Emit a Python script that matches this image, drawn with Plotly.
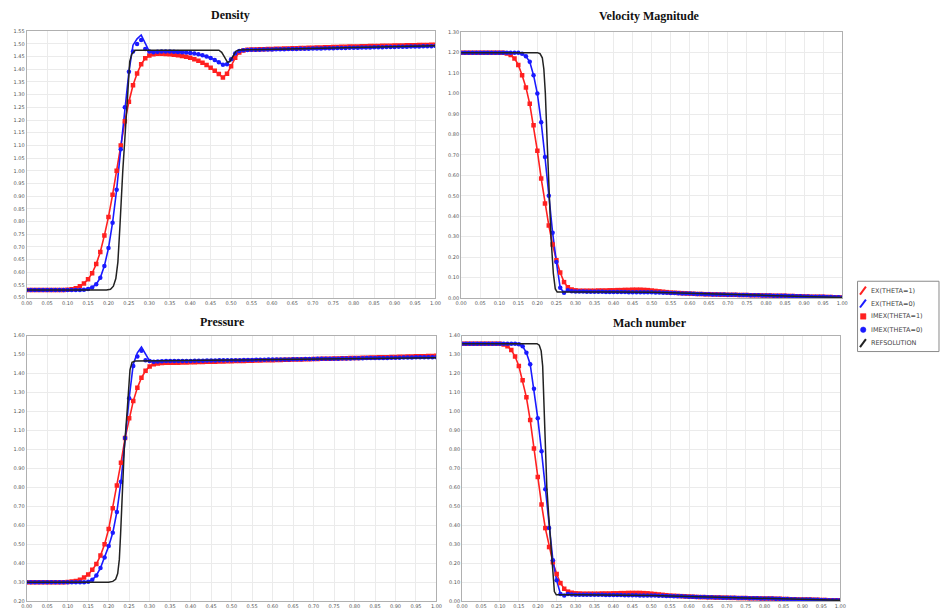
import plotly.graph_objects as go

# ---------------- data ----------------
X = [round(i * 0.01, 2) for i in range(101)]

density_red = [
    0.530, 0.530, 0.530, 0.530, 0.530, 0.530, 0.530, 0.530, 0.530, 0.530,
    0.531, 0.533, 0.537, 0.545, 0.556, 0.572, 0.596, 0.632, 0.680, 0.745,
    0.818, 0.905, 1.000, 1.100, 1.195, 1.272, 1.337, 1.383, 1.420, 1.443,
    1.454, 1.459, 1.461, 1.461, 1.460, 1.459, 1.457, 1.455, 1.452, 1.449,
    1.445, 1.440, 1.434, 1.426, 1.417, 1.406, 1.394, 1.381, 1.368, 1.382,
    1.412, 1.445, 1.466, 1.474, 1.477, 1.478, 1.478, 1.479, 1.479, 1.480,
    1.480, 1.481, 1.481, 1.482, 1.482, 1.483, 1.483, 1.484, 1.484, 1.485,
    1.485, 1.486, 1.486, 1.487, 1.487, 1.488, 1.488, 1.489, 1.489, 1.490,
    1.490, 1.490, 1.491, 1.491, 1.492, 1.492, 1.492, 1.493, 1.493, 1.493,
    1.494, 1.494, 1.494, 1.495, 1.495, 1.495, 1.496, 1.496, 1.496, 1.497,
    1.497]
density_blue = [
    0.530, 0.530, 0.530, 0.530, 0.530, 0.530, 0.530, 0.530, 0.530, 0.530,
    0.530, 0.530, 0.530, 0.530, 0.531, 0.534, 0.540, 0.553, 0.578, 0.625,
    0.695, 0.795, 0.925, 1.085, 1.250, 1.390, 1.495, 1.520, 1.535, 1.500,
    1.470, 1.467, 1.469, 1.470, 1.470, 1.470, 1.469, 1.468, 1.467, 1.466,
    1.464, 1.462, 1.459, 1.455, 1.450, 1.444, 1.437, 1.428, 1.418, 1.420,
    1.440, 1.462, 1.472, 1.475, 1.476, 1.477, 1.477, 1.477, 1.478, 1.478,
    1.478, 1.479, 1.479, 1.479, 1.480, 1.480, 1.480, 1.481, 1.481, 1.481,
    1.482, 1.482, 1.482, 1.483, 1.483, 1.483, 1.484, 1.484, 1.484, 1.485,
    1.485, 1.485, 1.486, 1.486, 1.486, 1.487, 1.487, 1.487, 1.488, 1.488,
    1.488, 1.489, 1.489, 1.489, 1.490, 1.490, 1.490, 1.491, 1.491, 1.491,
    1.492]
density_blue_imex_peak = [1.470, 1.500, 1.515, 1.480]   # x = 0.26 .. 0.29

velocity_red = [
    1.200, 1.200, 1.200, 1.200, 1.200, 1.200, 1.200, 1.200, 1.200, 1.200,
    1.200, 1.199, 1.196, 1.188, 1.172, 1.140, 1.090, 1.030, 0.950, 0.845,
    0.720, 0.585, 0.462, 0.355, 0.262, 0.185, 0.125, 0.078, 0.053, 0.042,
    0.038, 0.036, 0.036, 0.036, 0.036, 0.036, 0.037, 0.037, 0.037, 0.038,
    0.038, 0.039, 0.039, 0.040, 0.040, 0.041, 0.041, 0.041, 0.040, 0.039,
    0.037, 0.035, 0.033, 0.031, 0.029, 0.027, 0.026, 0.025, 0.024, 0.023,
    0.022, 0.021, 0.020, 0.020, 0.019, 0.019, 0.018, 0.018, 0.017, 0.017,
    0.016, 0.016, 0.016, 0.015, 0.015, 0.015, 0.014, 0.014, 0.014, 0.013,
    0.013, 0.013, 0.012, 0.012, 0.011, 0.011, 0.010, 0.010, 0.009, 0.009,
    0.008, 0.008, 0.007, 0.007, 0.006, 0.006, 0.005, 0.005, 0.004, 0.004,
    0.003]
velocity_blue = [
    1.200, 1.200, 1.200, 1.200, 1.200, 1.200, 1.200, 1.200, 1.200, 1.200,
    1.200, 1.200, 1.200, 1.200, 1.200, 1.199, 1.195, 1.182, 1.155, 1.090,
    1.000, 0.860, 0.690, 0.500, 0.320, 0.176, 0.050, 0.026, 0.038, 0.034,
    0.032, 0.032, 0.032, 0.031, 0.031, 0.031, 0.031, 0.031, 0.030, 0.030,
    0.030, 0.030, 0.030, 0.030, 0.029, 0.029, 0.029, 0.029, 0.028, 0.028,
    0.028, 0.027, 0.027, 0.026, 0.026, 0.025, 0.025, 0.024, 0.023, 0.023,
    0.022, 0.021, 0.020, 0.020, 0.019, 0.019, 0.018, 0.018, 0.017, 0.017,
    0.016, 0.016, 0.016, 0.015, 0.015, 0.015, 0.014, 0.014, 0.014, 0.013,
    0.013, 0.013, 0.012, 0.012, 0.011, 0.011, 0.010, 0.010, 0.009, 0.009,
    0.008, 0.008, 0.007, 0.007, 0.006, 0.006, 0.005, 0.005, 0.004, 0.004,
    0.003]

pressure_red = [
    0.300, 0.300, 0.300, 0.300, 0.300, 0.300, 0.300, 0.300, 0.300, 0.300,
    0.301, 0.303, 0.306, 0.313, 0.325, 0.340, 0.365, 0.395, 0.440, 0.500,
    0.580, 0.690, 0.810, 0.930, 1.060, 1.165, 1.255, 1.325, 1.378, 1.415,
    1.438, 1.449, 1.453, 1.456, 1.457, 1.457, 1.458, 1.458, 1.459, 1.459,
    1.460, 1.460, 1.461, 1.461, 1.462, 1.462, 1.463, 1.464, 1.464, 1.465,
    1.465, 1.466, 1.466, 1.467, 1.468, 1.468, 1.469, 1.469, 1.470, 1.470,
    1.471, 1.472, 1.472, 1.473, 1.473, 1.474, 1.474, 1.475, 1.476, 1.476,
    1.477, 1.477, 1.478, 1.478, 1.479, 1.480, 1.480, 1.481, 1.481, 1.482,
    1.482, 1.483, 1.484, 1.484, 1.485, 1.485, 1.486, 1.486, 1.487, 1.488,
    1.488, 1.489, 1.489, 1.490, 1.490, 1.491, 1.492, 1.492, 1.493, 1.493,
    1.494]
pressure_blue = [
    0.300, 0.300, 0.300, 0.300, 0.300, 0.300, 0.300, 0.300, 0.300, 0.300,
    0.300, 0.300, 0.300, 0.300, 0.300, 0.302, 0.312, 0.335, 0.375, 0.430,
    0.490, 0.560, 0.670, 0.830, 1.060, 1.270, 1.450, 1.510, 1.540, 1.505,
    1.466, 1.462, 1.464, 1.465, 1.466, 1.466, 1.466, 1.466, 1.467, 1.467,
    1.467, 1.468, 1.468, 1.468, 1.469, 1.469, 1.469, 1.470, 1.470, 1.470,
    1.471, 1.471, 1.471, 1.472, 1.472, 1.472, 1.473, 1.473, 1.473, 1.474,
    1.474, 1.474, 1.475, 1.475, 1.475, 1.476, 1.476, 1.476, 1.477, 1.477,
    1.477, 1.478, 1.478, 1.478, 1.479, 1.479, 1.479, 1.480, 1.480, 1.480,
    1.481, 1.481, 1.481, 1.482, 1.482, 1.482, 1.483, 1.483, 1.483, 1.484,
    1.484, 1.484, 1.485, 1.485, 1.485, 1.486, 1.486, 1.486, 1.487, 1.487,
    1.487]
pressure_blue_imex_peak = [1.440, 1.490, 1.520, 1.470]   # x = 0.26 .. 0.29

mach_red = [
    1.358, 1.358, 1.358, 1.358, 1.358, 1.358, 1.358, 1.358, 1.358, 1.358,
    1.357, 1.353, 1.344, 1.325, 1.290, 1.240, 1.165, 1.075, 0.955, 0.805,
    0.655, 0.510, 0.385, 0.285, 0.205, 0.143, 0.095, 0.065, 0.050, 0.044,
    0.041, 0.040, 0.039, 0.039, 0.039, 0.039, 0.039, 0.040, 0.040, 0.040,
    0.041, 0.041, 0.042, 0.042, 0.043, 0.043, 0.043, 0.043, 0.042, 0.041,
    0.039, 0.037, 0.035, 0.033, 0.031, 0.029, 0.028, 0.027, 0.026, 0.025,
    0.024, 0.023, 0.022, 0.021, 0.021, 0.020, 0.020, 0.019, 0.019, 0.018,
    0.018, 0.017, 0.017, 0.016, 0.016, 0.016, 0.015, 0.015, 0.015, 0.014,
    0.014, 0.013, 0.013, 0.012, 0.012, 0.011, 0.011, 0.010, 0.010, 0.009,
    0.009, 0.008, 0.008, 0.007, 0.007, 0.006, 0.006, 0.005, 0.005, 0.004,
    0.004]
mach_blue = [
    1.358, 1.358, 1.358, 1.358, 1.358, 1.358, 1.358, 1.358, 1.358, 1.358,
    1.358, 1.358, 1.358, 1.358, 1.358, 1.355, 1.345, 1.310, 1.250, 1.120,
    0.965, 0.790, 0.590, 0.385, 0.215, 0.110, 0.038, 0.030, 0.037, 0.035,
    0.034, 0.034, 0.034, 0.033, 0.033, 0.033, 0.033, 0.033, 0.032, 0.032,
    0.032, 0.032, 0.032, 0.031, 0.031, 0.031, 0.031, 0.030, 0.030, 0.030,
    0.029, 0.029, 0.028, 0.028, 0.027, 0.027, 0.026, 0.025, 0.025, 0.024,
    0.023, 0.023, 0.022, 0.021, 0.021, 0.020, 0.020, 0.019, 0.019, 0.018,
    0.018, 0.017, 0.017, 0.016, 0.016, 0.016, 0.015, 0.015, 0.015, 0.014,
    0.014, 0.013, 0.013, 0.012, 0.012, 0.011, 0.011, 0.010, 0.010, 0.009,
    0.009, 0.008, 0.008, 0.007, 0.007, 0.006, 0.006, 0.005, 0.005, 0.004,
    0.004]

# reference solution (black line)
ref_density_x = [0, 0.195, 0.205, 0.212, 0.218, 0.223, 0.228, 0.235, 0.245, 0.252, 0.257, 0.265,
                 0.47, 0.477, 0.484, 0.491, 0.497, 0.505, 0.512, 0.52, 1.0]
ref_density_y = [0.53, 0.53, 0.533, 0.545, 0.575, 0.64, 0.78, 1.0, 1.25, 1.43, 1.46, 1.475,
                 1.475, 1.467, 1.448, 1.428, 1.43, 1.455, 1.472, 1.476, 1.493]
ref_velocity_x = [0, 0.2, 0.207, 0.213, 0.217, 0.221, 0.226, 0.231, 0.236, 0.242, 0.247, 0.252,
                  0.3, 0.4, 0.5, 0.6, 0.7, 0.8, 0.9, 1.0]
ref_velocity_y = [1.2, 1.2, 1.195, 1.175, 1.12, 1.0, 0.75, 0.52, 0.29, 0.12, 0.045, 0.03,
                  0.031, 0.030, 0.028, 0.022, 0.016, 0.013, 0.008, 0.003]
ref_pressure_x = [0, 0.2, 0.21, 0.217, 0.222, 0.226, 0.229, 0.233, 0.238, 0.245, 0.252, 0.257,
                  0.265, 0.5, 1.0]
ref_pressure_y = [0.3, 0.3, 0.304, 0.315, 0.345, 0.42, 0.55, 0.80, 1.0, 1.2, 1.42, 1.46,
                  1.466, 1.472, 1.484]
ref_mach_x = [0, 0.198, 0.204, 0.209, 0.213, 0.216, 0.219, 0.224, 0.229, 0.234, 0.239, 0.244,
              0.249, 0.3, 0.5, 0.6, 0.7, 0.8, 0.9, 1.0]
ref_mach_y = [1.358, 1.358, 1.35, 1.32, 1.24, 1.05, 0.80, 0.60, 0.45, 0.30, 0.15, 0.05,
              0.033, 0.034, 0.029, 0.024, 0.018, 0.014, 0.009, 0.004]

titles = ["Density", "Velocity Magnitude", "Pressure", "Mach number"]
legend_names = ["EX(THETA=1)", "EX(THETA=0)", "IMEX(THETA=1)", "IMEX(THETA=0)", "REFSOLUTION"]

# ---------------- figure ----------------
RED = "#ff2020"
BLUE = "#1a1aff"
BLACK = "#222222"
W, H = 944, 613

panels = [
    dict(ex_r=density_red, ex_b=density_blue,
         im_b=density_blue[:26] + density_blue_imex_peak + density_blue[30:],
         rx=ref_density_x, ry=ref_density_y, yr=[0.5, 1.55], dt=0.05,
         px=(21, 435), py=(28.5, 297.5)),
    dict(ex_r=velocity_red, ex_b=velocity_blue, im_b=velocity_blue,
         rx=ref_velocity_x, ry=ref_velocity_y, yr=[0.0, 1.3], dt=0.10,
         px=(461, 847), py=(29.5, 298)),
    dict(ex_r=pressure_red, ex_b=pressure_blue,
         im_b=pressure_blue[:26] + pressure_blue_imex_peak + pressure_blue[30:],
         rx=ref_pressure_x, ry=ref_pressure_y, yr=[0.2, 1.6], dt=0.10,
         px=(21, 436), py=(336, 604)),
    dict(ex_r=mach_red, ex_b=mach_blue, im_b=mach_blue,
         rx=ref_mach_x, ry=ref_mach_y, yr=[0.0, 1.4], dt=0.10,
         px=(462, 845), py=(336, 604)),
]

fig = go.Figure()
layout_axes = {}
for i, p in enumerate(panels):
    n = "" if i == 0 else str(i + 1)
    xa, ya = "x" + n, "y" + n
    fig.add_trace(go.Scatter(x=X, y=p["ex_r"], mode="lines", name=legend_names[0],
                             line=dict(color=RED, width=1.6), xaxis=xa, yaxis=ya, showlegend=False))
    fig.add_trace(go.Scatter(x=X, y=p["ex_b"], mode="lines", name=legend_names[1],
                             line=dict(color=BLUE, width=1.6), xaxis=xa, yaxis=ya, showlegend=False))
    fig.add_trace(go.Scatter(x=X, y=p["ex_r"], mode="markers", name=legend_names[2],
                             marker=dict(color=RED, size=4.5, symbol="square"),
                             xaxis=xa, yaxis=ya, showlegend=False))
    fig.add_trace(go.Scatter(x=X, y=p["im_b"], mode="markers", name=legend_names[3],
                             marker=dict(color=BLUE, size=4.5, symbol="circle"),
                             xaxis=xa, yaxis=ya, showlegend=False))
    fig.add_trace(go.Scatter(x=p["rx"], y=p["ry"], mode="lines", name=legend_names[4],
                             line=dict(color=BLACK, width=1.5), xaxis=xa, yaxis=ya, showlegend=False))
    x0, x1 = p["px"]
    y0, y1 = p["py"]
    axcommon = dict(showline=True, linecolor="#b0b0b0", linewidth=1, mirror=True,
                    gridcolor="#ebebeb", gridwidth=1, zeroline=False, ticks="",
                    tickfont=dict(family="DejaVu Sans", size=5, color="#555555"),
                    tickformat=".2f", fixedrange=True)
    layout_axes["xaxis" + n] = dict(axcommon, domain=[x0 / W, x1 / W], range=[0, 1],
                                    dtick=0.05, tick0=0, anchor=ya)
    layout_axes["yaxis" + n] = dict(axcommon, domain=[1 - y1 / H, 1 - y0 / H], range=p["yr"],
                                    dtick=p["dt"], tick0=0, anchor=xa)

title_pos = [(227, 12), (652, 13), (219, 322), (652, 323)]
annotations = []
for t, (tx, ty) in zip(titles, title_pos):
    annotations.append(dict(text="<b>" + t + "</b>", x=tx / W, y=1 - ty / H, xref="paper", yref="paper",
                            showarrow=False, xanchor="center", yanchor="middle",
                            font=dict(family="Liberation Serif", size=12, color="#111111")))

# ---- legend (drawn in paper space) ----
def px2paper(xp, yp):
    return xp / W, 1 - yp / H

shapes = []
lx0, ly0, lx1, ly1 = 862.5, 281, 945, 352
a0, b0 = px2paper(lx0, ly0)
a1, b1 = px2paper(lx1, ly1)
shapes.append(dict(type="rect", xref="paper", yref="paper", x0=a0, y0=b1, x1=a1, y1=b0,
                   line=dict(color="#8a8a8a", width=1), fillcolor="white", layer="above"))
entry_y = [290.5, 303.5, 316.5, 330, 343.5]
icon_kind = [("line", RED), ("line", BLUE), ("square", RED), ("circle", BLUE), ("line", BLACK)]
for name, yy, (kind, col) in zip(legend_names, entry_y, icon_kind):
    if kind == "line":
        p0 = px2paper(865, yy + 4)
        p1 = px2paper(871, yy - 4)
        shapes.append(dict(type="line", xref="paper", yref="paper", x0=p0[0], y0=p0[1],
                           x1=p1[0], y1=p1[1], line=dict(color=col, width=2), layer="above"))
    else:
        p0 = px2paper(865.5, yy + 2.8)
        p1 = px2paper(871, yy - 2.8)
        shapes.append(dict(type="rect" if kind == "square" else "circle", xref="paper", yref="paper",
                           x0=p0[0], y0=p0[1], x1=p1[0], y1=p1[1],
                           line=dict(color=col, width=0.5), fillcolor=col, layer="above"))
    tx, ty = px2paper(874.5, yy)
    annotations.append(dict(text=name, x=tx, y=ty, xref="paper", yref="paper", showarrow=False,
                            xanchor="left", yanchor="middle",
                            font=dict(family="DejaVu Sans", size=6.5, color="#444444")))

fig.update_layout(
    width=W, height=H, margin=dict(l=0, r=0, t=0, b=0),
    paper_bgcolor="white", plot_bgcolor="white",
    annotations=annotations, shapes=shapes, showlegend=False,
    **layout_axes,
)

fig.write_html("out.html")
